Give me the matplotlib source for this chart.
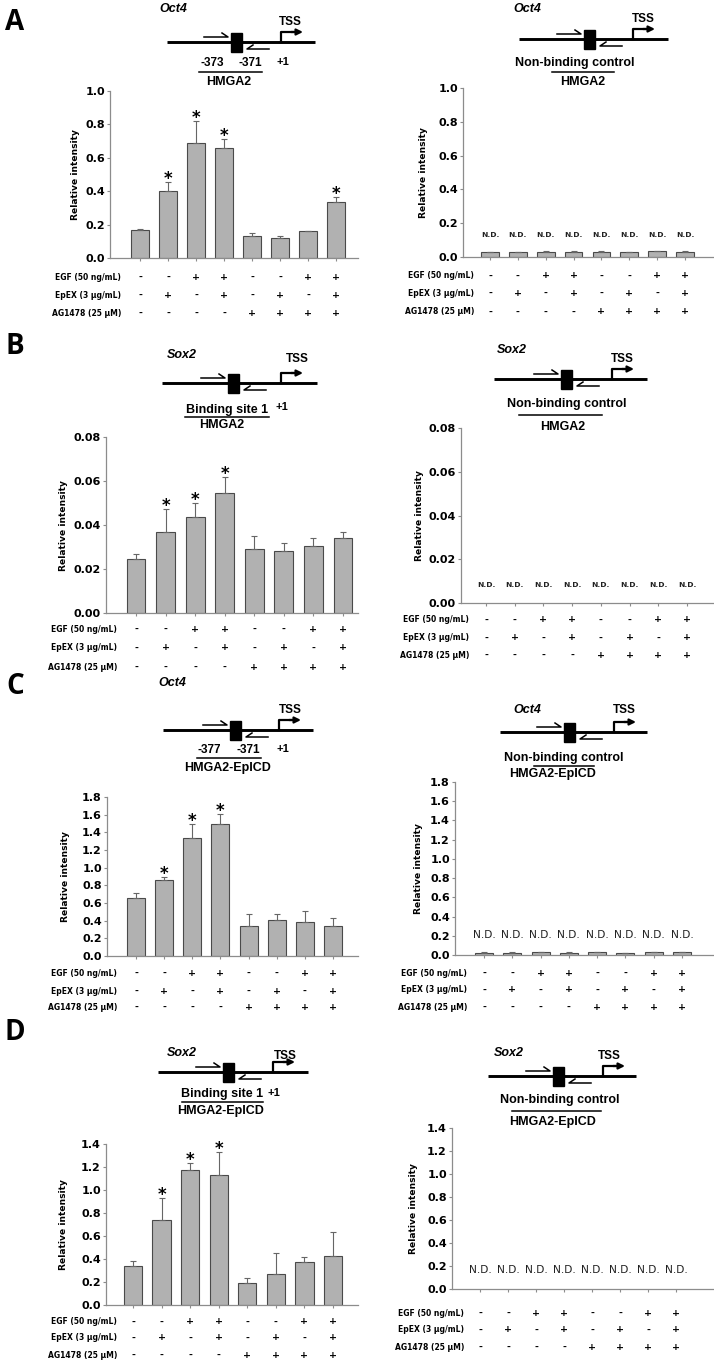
import matplotlib
matplotlib.use('Agg')
import matplotlib.pyplot as plt
import matplotlib.transforms as mtransforms
from matplotlib.patches import Rectangle
import numpy as np

plt.rcParams['font.family'] = ['DejaVu Sans']
DIAG_FONT = ['Liberation Sans', 'DejaVu Sans']

W, H = 714, 1362

# ── treatments ───────────────────────────────────────────────────────────────
row_names = ['EGF (50 ng/mL)', 'EpEX (3 μg/mL)', 'AG1478 (25 μM)']
egf  = ['-', '-', '+', '+', '-', '-', '+', '+']
epex = ['-', '+', '-', '+', '-', '+', '-', '+']
ag   = ['-', '-', '-', '-', '+', '+', '+', '+']

# ── data ─────────────────────────────────────────────────────────────────────
a_vals = [0.169, 0.404, 0.687, 0.657, 0.133, 0.120, 0.161, 0.335]
a_err  = [0.006, 0.050, 0.133, 0.054, 0.016, 0.013, 0.002, 0.032]
a_star = [1, 2, 3, 7]
a_ctrl_vals = [0.028, 0.028, 0.031, 0.030, 0.032, 0.027, 0.033, 0.032]
a_ctrl_err  = [0.001, 0.002, 0.002, 0.003, 0.001, 0.001, 0.001, 0.002]

b_vals = [0.0246, 0.0367, 0.0435, 0.0545, 0.0293, 0.0282, 0.0305, 0.0341]
b_err  = [0.0023, 0.0108, 0.0065, 0.0074, 0.0057, 0.0036, 0.0036, 0.0026]
b_star = [1, 2, 3]

c_vals = [0.652, 0.864, 1.338, 1.497, 0.341, 0.402, 0.387, 0.337]
c_err  = [0.057, 0.034, 0.159, 0.113, 0.136, 0.079, 0.117, 0.095]
c_star = [1, 2, 3]
c_ctrl_vals = [0.025, 0.026, 0.028, 0.026, 0.028, 0.022, 0.030, 0.028]
c_ctrl_err  = [0.002, 0.002, 0.002, 0.002, 0.001, 0.001, 0.002, 0.002]

d_vals = [0.339, 0.742, 1.171, 1.128, 0.194, 0.272, 0.377, 0.426]
d_err  = [0.041, 0.191, 0.061, 0.200, 0.044, 0.183, 0.043, 0.212]
d_star = [1, 2, 3]

fig = plt.figure(figsize=(W / 100, H / 100), dpi=100)

# overlay in pixel coordinates for schematics and row labels
ov = fig.add_axes([0, 0, 1, 1])
ov.set_xlim(0, W)
ov.set_ylim(H, 0)
ov.axis('off')
ov.patch.set_visible(False)

X = np.arange(8)
BAR = '#b1b1b1'
EDGE = '#4a4a4a'
AXC = '#8c8c8c'


# ── bar chart ────────────────────────────────────────────────────────────────
def chart(box, first, last, ylim, yticks, fmt, label_x, label_right, row_ys,
          vals=None, errs=None, stars=(), nd_y=None, nd_bold=True):
    left, right, top, bottom = box
    ax = fig.add_axes([left / W, 1 - bottom / H, (right - left) / W, (bottom - top) / H])
    ax.patch.set_visible(False)
    s = (last - first) / 7
    ax.set_xlim(-(first - left) / s, 7 + (right - last) / s)
    ax.set_ylim(*ylim)

    if vals is not None:
        ax.bar(X, vals, width=0.64, color=BAR, edgecolor=EDGE, linewidth=0.8, zorder=2)
        ax.errorbar(X, vals, yerr=[np.zeros(8), errs], fmt='none', ecolor='#666666',
                    elinewidth=0.8, capsize=2.3, capthick=0.8, zorder=3)
    for i in stars:
        ax.annotate('*', (X[i], vals[i] + errs[i]), xytext=(0, -1.5), textcoords='offset points',
                    ha='center', va='baseline', fontsize=12, fontweight='bold')
    if nd_y is not None:
        for i in X:
            ax.text(i, nd_y, 'N.D.', ha='center', va='center',
                    fontsize=5.4 if nd_bold else 7.7,
                    fontweight='bold' if nd_bold else 'normal', color='#222222')

    for sp in ['top', 'right']:
        ax.spines[sp].set_visible(False)
    for sp in ['left', 'bottom']:
        ax.spines[sp].set_color(AXC)
        ax.spines[sp].set_linewidth(0.9)
    ax.set_yticks(yticks)
    ax.set_yticklabels([fmt.format(t) for t in yticks], fontweight='bold', fontsize=8)
    ax.tick_params(axis='y', direction='out', length=2.5, width=0.8, color=AXC, pad=1.2)
    ax.set_xticks(X)
    ax.set_xticklabels([])
    ax.tick_params(axis='x', direction='out', length=2, width=0.8, color=AXC)

    ax.set_ylabel('Relative intensity', fontsize=6.6, fontweight='bold')
    ax.yaxis.set_label_coords((label_x - left) / (right - left), 0.5)
    ax.yaxis.label.set_va('center')

    tr = mtransforms.blended_transform_factory(ax.transData, ov.transData)
    for name, signs, ry in zip(row_names, [egf, epex, ag], row_ys):
        ov.text(label_right, ry, name, ha='right', va='center', fontsize=5.5, fontweight='bold')
        for xi, sg in zip(X, signs):
            ax.text(xi, ry, sg, transform=tr, ha='center', va='center',
                    fontsize=6.8, fontweight='bold')
    return ax


# ── promoter schematic ───────────────────────────────────────────────────────
def schematic(line, box_x, tss_x, gene, tss_txt, labels, underline):
    x0, x1, y = line
    ov.plot([x0, x1], [y, y], color='k', lw=2.1, solid_capstyle='butt')
    ov.add_patch(Rectangle((box_x, y - 9.5), 11, 19, color='k'))
    # forward primer
    ov.plot([box_x - 27, box_x - 3, box_x - 9], [y - 5, y - 5, y - 9], color='k', lw=1.1)
    # reverse primer
    ov.plot([box_x + 38, box_x + 16, box_x + 22], [y + 7, y + 7, y + 3], color='k', lw=1.1)
    # TSS arrow
    ov.plot([tss_x, tss_x, tss_x + 12], [y, y - 10, y - 10], color='k', lw=1.6)
    ov.annotate('', xy=(tss_x + 22, y - 10), xytext=(tss_x + 10, y - 10),
                arrowprops=dict(arrowstyle='-|>', color='k', lw=1.6, mutation_scale=9,
                                shrinkA=0, shrinkB=0))
    ov.text(tss_txt[0], tss_txt[1], 'TSS', ha='center', va='center', fontsize=8.5,
            fontweight='bold', family=DIAG_FONT)
    ov.text(gene[1], gene[2], gene[0], ha='center', va='center', fontsize=9,
            fontweight='bold', style='italic', family=DIAG_FONT)
    for txt, tx, ty, fs in labels:
        ov.text(tx, ty, txt, ha='center', va='center', fontsize=fs, fontweight='bold',
                family=DIAG_FONT)
    u0, u1, uy = underline
    ov.plot([u0, u1], [uy, uy], color='k', lw=1.1)


# ── panel letters ────────────────────────────────────────────────────────────
for letter, ly in zip('ABCD', [23, 346, 686, 1032]):
    ov.text(15, ly, letter, ha='center', va='center', fontsize=20, fontweight='bold',
            family=['Open Sans', 'DejaVu Sans'])

# ── A ────────────────────────────────────────────────────────────────────────
schematic((167, 315, 42), 231, 281, ('Oct4', 173, 9), (290, 22),
          [('-373', 212, 63, 8.5), ('-371', 250, 63, 8.5), ('+1', 283, 62, 8), ('HMGA2', 229, 82, 9)],
          (199, 262, 72))
chart((110, 358, 91, 258), 140, 336, (0, 1.0), [0, 0.2, 0.4, 0.6, 0.8, 1.0], '{:.1f}',
      75, 121, [277, 295, 313], a_vals, a_err, a_star)

schematic((519, 668, 39), 584, 633, ('Oct4', 527, 9), (643, 19),
          [('Non-binding control', 575, 63, 9), ('HMGA2', 583, 82, 9)],
          (552, 614, 72))
chart((463, 713, 88, 257), 490, 685, (0, 1.0), [0, 0.2, 0.4, 0.6, 0.8, 1.0], '{:.1f}',
      424, 474, [276, 293, 312], a_ctrl_vals, a_ctrl_err, nd_y=0.13)

# ── B ────────────────────────────────────────────────────────────────────────
schematic((162, 317, 383), 228, 281, ('Sox2', 182, 355), (297, 359),
          [('Binding site 1', 227, 410, 9), ('+1', 282, 407, 8), ('HMGA2', 222, 425, 9)],
          (185, 269, 417))
chart((106, 358, 437, 613), 136, 343, (0, 0.08), [0, 0.02, 0.04, 0.06, 0.08], '{:.2f}',
      63, 117, [629, 648, 667], b_vals, b_err, b_star)

schematic((494, 647, 379), 561, 612, ('Sox2', 512, 350), (622, 359),
          [('Non-binding control', 567, 404, 9), ('HMGA2', 563, 427, 9)],
          (519, 602, 415))
chart((461, 713, 428, 603), 486, 687, (0, 0.08), [0, 0.02, 0.04, 0.06, 0.08], '{:.2f}',
      420, 469, [620, 638, 655], nd_y=0.0082)

# ── C ────────────────────────────────────────────────────────────────────────
schematic((163, 313, 730), 230, 279, ('Oct4', 172, 683), (290, 710),
          [('-377', 209, 750, 8.5), ('-371', 248, 750, 8.5), ('+1', 283, 749, 8),
           ('HMGA2-EpICD', 228, 768, 9)],
          (197, 261, 758))
chart((107, 358, 797, 956), 136, 333, (0, 1.8), [0, 0.2, 0.4, 0.6, 0.8, 1.0, 1.2, 1.4, 1.6, 1.8],
      '{:.1f}', 66, 117, [973, 991, 1007], c_vals, c_err, c_star)

schematic((500, 647, 732), 564, 614, ('Oct4', 527, 710), (624, 710),
          [('Non-binding control', 564, 758, 9), ('HMGA2-EpICD', 553, 774, 9)],
          (534, 594, 766))
chart((455, 713, 782, 955), 484, 682, (0, 1.8), [0, 0.2, 0.4, 0.6, 0.8, 1.0, 1.2, 1.4, 1.6, 1.8],
      '{:.1f}', 419, 467, [973, 990, 1007], c_ctrl_vals, c_ctrl_err, nd_y=0.21, nd_bold=False)

# ── D ────────────────────────────────────────────────────────────────────────
schematic((158, 308, 1072), 223, 273, ('Sox2', 182, 1053), (285, 1056),
          [('Binding site 1', 222, 1094, 9), ('+1', 274, 1093, 8), ('HMGA2-EpICD', 221, 1111, 9)],
          (182, 263, 1102))
chart((106, 358, 1144, 1305), 133, 333, (0, 1.4), [0, 0.2, 0.4, 0.6, 0.8, 1.0, 1.2, 1.4], '{:.1f}',
      64, 117, [1322, 1338, 1355], d_vals, d_err, d_star)

schematic((488, 636, 1076), 553, 603, ('Sox2', 509, 1053), (609, 1056),
          [('Non-binding control', 560, 1100, 9), ('HMGA2-EpICD', 553, 1122, 9)],
          (512, 601, 1111))
chart((452, 713, 1128, 1289), 480, 676, (0, 1.4), [0, 0.2, 0.4, 0.6, 0.8, 1.0, 1.2, 1.4], '{:.1f}',
      414, 464, [1313, 1330, 1347], nd_y=0.165, nd_bold=False)

fig.savefig('out.png', dpi=100)
